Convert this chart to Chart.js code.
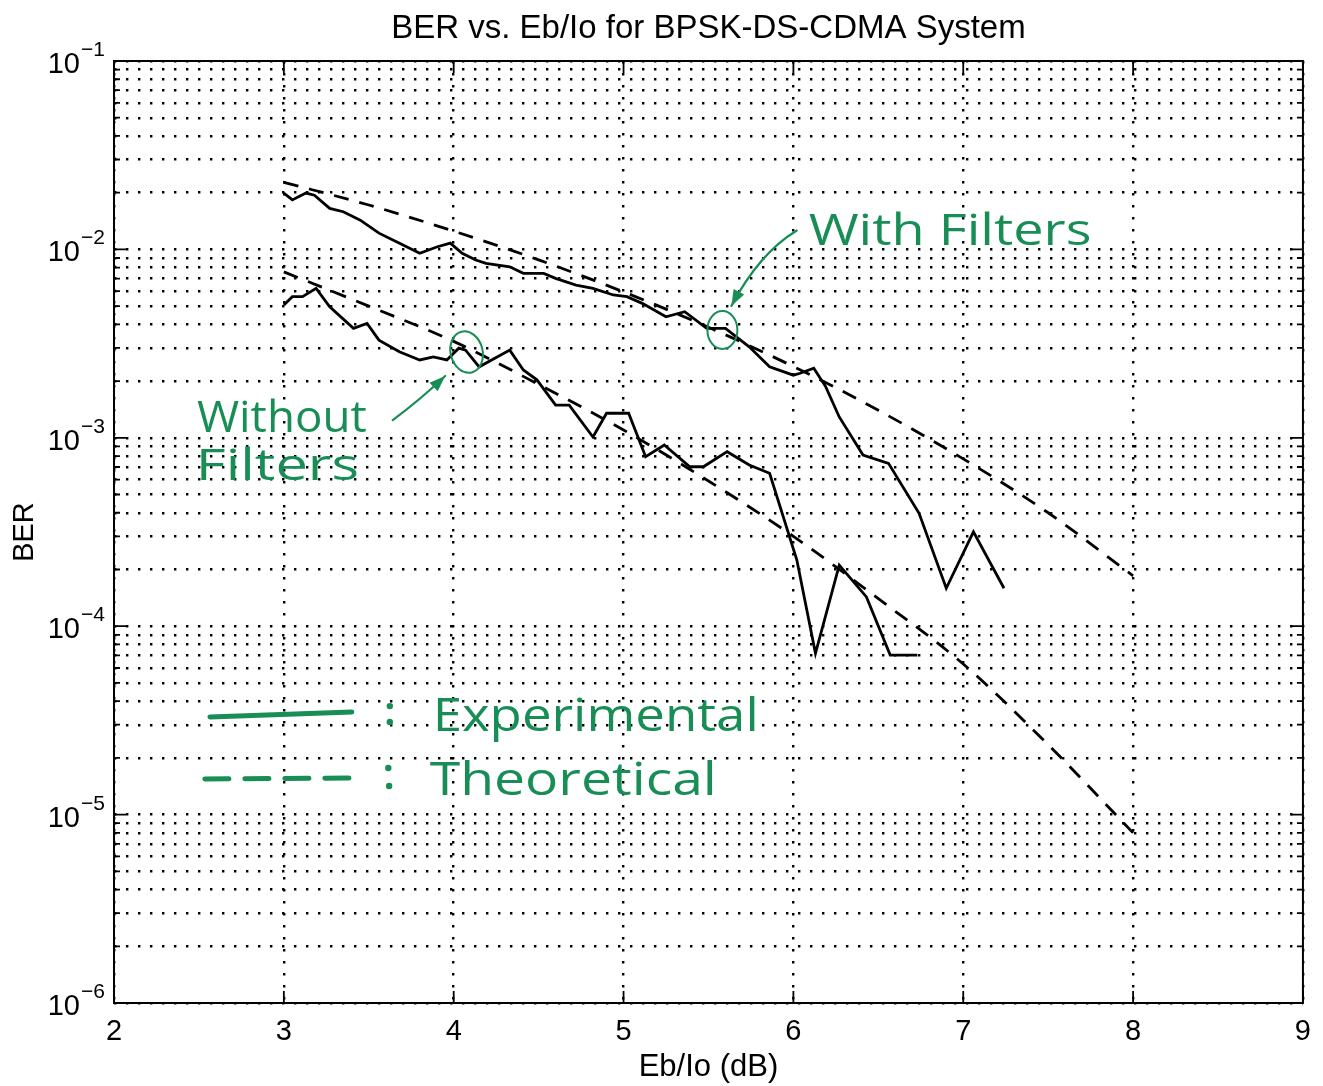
<!DOCTYPE html>
<html><head><meta charset="utf-8">
<script src="https://cdn.jsdelivr.net/npm/chart.js@4.4.1/dist/chart.umd.min.js"></script>
<style>html,body{margin:0;padding:0;background:#fff}#wrap{width:1323px;height:1086px;position:relative}</style>
</head><body><div id="wrap"><canvas id="c"></canvas></div>
<script>
// ---- text ----
const titleText = 'BER vs. Eb/Io for BPSK-DS-CDMA System';
const xLabel = 'Eb/Io (dB)';
const yLabel = 'BER';
const xTicks = [2, 3, 4, 5, 6, 7, 8, 9];
const yExponents = [-6, -5, -4, -3, -2, -1];
const noteWith = 'With Filters';
const noteWithout1 = 'Without';
const noteWithout2 = 'Filters';
const legendSolid = 'Experimental';
const legendDashed = 'Theoretical';

// ---- data ----
const withFiltersX = [3.00, 3.05, 3.13, 3.18, 3.27, 3.35, 3.45, 3.56, 3.66, 3.80, 3.90, 3.98, 4.05, 4.13, 4.19, 4.33, 4.41, 4.53, 4.60, 4.72, 4.82, 4.94, 5.02, 5.11, 5.25, 5.36, 5.49, 5.60, 5.74, 5.86, 6.00, 6.04, 6.12, 6.19, 6.27, 6.41, 6.56, 6.74, 6.90, 7.06, 7.24];
const withFiltersBER = [1.99e-2, 1.83e-2, 1.99e-2, 1.94e-2, 1.65e-2, 1.585e-2, 1.43e-2, 1.22e-2, 1.10e-2, 9.53e-3, 1.03e-2, 1.08e-2, 9.53e-3, 8.78e-3, 8.43e-3, 8.09e-3, 7.46e-3, 7.46e-3, 7.02e-3, 6.47e-3, 6.21e-3, 5.73e-3, 5.61e-3, 5.17e-3, 4.39e-3, 4.67e-3, 3.81e-3, 3.81e-3, 3.04e-3, 2.38e-3, 2.15e-3, 2.20e-3, 2.34e-3, 1.87e-3, 1.29e-3, 8.10e-4, 7.32e-4, 3.97e-4, 1.59e-4, 3.17e-4, 1.59e-4];
const withoutFiltersX = [3.00, 3.05, 3.11, 3.19, 3.27, 3.41, 3.49, 3.56, 3.68, 3.80, 3.88, 3.96, 4.03, 4.07, 4.15, 4.33, 4.41, 4.49, 4.60, 4.68, 4.82, 4.90, 5.03, 5.13, 5.24, 5.39, 5.47, 5.61, 5.74, 5.86, 6.02, 6.13, 6.27, 6.43, 6.57, 6.73];
const withoutFiltersBER = [5.07e-3, 5.61e-3, 5.61e-3, 6.21e-3, 4.96e-3, 3.81e-3, 4.05e-3, 3.30e-3, 2.86e-3, 2.59e-3, 2.69e-3, 2.59e-3, 2.99e-3, 2.92e-3, 2.38e-3, 2.92e-3, 2.29e-3, 2.03e-3, 1.49e-3, 1.49e-3, 1.01e-3, 1.35e-3, 1.35e-3, 7.93e-4, 9.16e-4, 7.02e-4, 7.02e-4, 8.44e-4, 7.17e-4, 6.48e-4, 2.25e-4, 7.18e-5, 2.11e-4, 1.43e-4, 7.03e-5, 7.03e-5];
const theoryX = [3.0, 3.5, 4.0, 4.5, 5.0, 5.5, 6.0, 6.5, 7.0, 7.5, 8.0];
const theoryWithBER = [2.27e-2, 1.72e-2, 1.25e-2, 8.8e-3, 5.95e-3, 3.86e-3, 2.39e-3, 1.40e-3, 7.73e-4, 4.0e-4, 1.85e-4];
const theoryWithoutBER = [7.6e-3, 5.0e-3, 3.25e-3, 1.92e-3, 1.1e-3, 5.9e-4, 3.0e-4, 1.40e-4, 6.3e-5, 2.35e-5, 8.0e-6];

const pts = (xs, ys) => xs.map((x, i) => ({ x, y: ys[i] }));
const GREEN = 'rgb(24,142,86)';
const FONT = '"Liberation Sans", Arial, Helvetica, sans-serif';
const HAND = '"Open Sans", "Noto Sans", sans-serif';

const frame = {
  id: 'frame',
  afterDraw(chart) {
    const { ctx, chartArea: a, scales: { x, y } } = chart;
    ctx.save();
    ctx.strokeStyle = '#000';
    ctx.lineWidth = 2;
    ctx.strokeRect(a.left, a.top, a.right - a.left, a.bottom - a.top);
    ctx.lineWidth = 1.8;
    ctx.beginPath();
    y.ticks.forEach(t => {
      const p = y.getPixelForValue(t.value);
      const L = t.major ? 12 : 6;
      ctx.moveTo(a.left, p); ctx.lineTo(a.left + L, p);
      ctx.moveTo(a.right, p); ctx.lineTo(a.right - L, p);
    });
    xTicks.forEach(v => {
      const p = x.getPixelForValue(v);
      ctx.moveTo(p, a.bottom); ctx.lineTo(p, a.bottom - 12);
      ctx.moveTo(p, a.top); ctx.lineTo(p, a.top + 12);
    });
    ctx.stroke();
    ctx.fillStyle = '#000';
    ctx.textBaseline = 'alphabetic';
    yExponents.forEach(e => {
      const p = y.getPixelForValue(Math.pow(10, e));
      ctx.font = '29px ' + FONT;
      ctx.textAlign = 'right';
      ctx.fillText('10', 80, p + 12);
      ctx.font = '21px ' + FONT;
      ctx.textAlign = 'left';
      ctx.fillText('\u2212' + Math.abs(e), 81, p - 5);
    });
    ctx.restore();
  }
};

function P(chart, xv, e) {
  return [chart.scales.x.getPixelForValue(xv), chart.scales.y.getPixelForValue(Math.pow(10, e))];
}
function handText(ctx, text, x, y, size, targetW) {
  ctx.save();
  ctx.font = size + 'px ' + HAND;
  const w = ctx.measureText(text).width;
  ctx.translate(x, y);
  ctx.scale(targetW / w, 1);
  ctx.fillStyle = GREEN;
  ctx.textAlign = 'left';
  ctx.textBaseline = 'alphabetic';
  ctx.fillText(text, 0, 0);
  ctx.restore();
}
function arrowHead(ctx, from, tip, len, half) {
  const dx = tip[0] - from[0], dy = tip[1] - from[1];
  const d = Math.hypot(dx, dy); const ux = dx / d, uy = dy / d;
  ctx.beginPath();
  ctx.moveTo(tip[0], tip[1]);
  ctx.lineTo(tip[0] - ux * len - uy * half, tip[1] - uy * len + ux * half);
  ctx.lineTo(tip[0] - ux * len + uy * half, tip[1] - uy * len - ux * half);
  ctx.closePath();
  ctx.fill();
}

const notes = {
  id: 'notes',
  afterDatasetsDraw(chart) {
    const { ctx, scales: { x } } = chart;
    const W = (dx) => x.getPixelForValue(2 + dx) - x.getPixelForValue(2);
    ctx.save();
    ctx.strokeStyle = GREEN; ctx.fillStyle = GREEN;
    ctx.lineCap = 'round'; ctx.lineJoin = 'round';

    let p = P(chart, 6.09, -1.977);
    handText(ctx, noteWith, p[0], p[1], 43, W(1.665));
    const a1 = P(chart, 6.02, -1.90), c1 = P(chart, 5.80, -2.02), t1 = P(chart, 5.635, -2.30);
    ctx.lineWidth = 2.2;
    ctx.beginPath(); ctx.moveTo(a1[0], a1[1]); ctx.quadraticCurveTo(c1[0], c1[1], t1[0], t1[1]); ctx.stroke();
    arrowHead(ctx, c1, t1, 16, 6);
    const e1 = P(chart, 5.582, -2.428);
    ctx.lineWidth = 2;
    ctx.beginPath(); ctx.ellipse(e1[0], e1[1], 15, 19, 0, 0, Math.PI * 2); ctx.stroke();

    p = P(chart, 2.488, -2.969);
    handText(ctx, noteWithout1, p[0], p[1], 43, W(1.0));
    p = P(chart, 2.482, -3.224);
    handText(ctx, noteWithout2, p[0], p[1], 43, W(0.96));
    const a2 = P(chart, 3.641, -2.906), c2 = P(chart, 3.80, -2.80), t2 = P(chart, 3.95, -2.672);
    ctx.lineWidth = 2.2;
    ctx.beginPath(); ctx.moveTo(a2[0], a2[1]); ctx.quadraticCurveTo(c2[0], c2[1], t2[0], t2[1]); ctx.stroke();
    arrowHead(ctx, c2, t2, 16, 6);
    const e2 = P(chart, 4.076, -2.545);
    ctx.lineWidth = 2;
    ctx.beginPath(); ctx.ellipse(e2[0], e2[1], 16, 21, -0.25, 0, Math.PI * 2); ctx.stroke();

    const s1 = P(chart, 2.565, -4.482), s2 = P(chart, 3.40, -4.455);
    ctx.lineWidth = 5;
    ctx.beginPath(); ctx.moveTo(s1[0], s1[1]); ctx.lineTo(s2[0], s2[1]); ctx.stroke();
    const d1 = P(chart, 2.535, -4.811), d2 = P(chart, 3.406, -4.806);
    ctx.setLineDash([24, 16]);
    ctx.beginPath(); ctx.moveTo(d1[0], d1[1]); ctx.lineTo(d2[0], d2[1]); ctx.stroke();
    ctx.setLineDash([]);
    [[3.624, -4.424], [3.624, -4.508], [3.615, -4.753], [3.62, -4.848]].forEach(q => {
      const c = P(chart, q[0], q[1]);
      ctx.beginPath(); ctx.arc(c[0], c[1], 3.2, 0, Math.PI * 2); ctx.fill();
    });
    p = P(chart, 3.876, -4.556);
    handText(ctx, legendSolid, p[0], p[1], 45, W(1.92));
    p = P(chart, 3.859, -4.896);
    handText(ctx, legendDashed, p[0], p[1], 45, W(1.69));
    ctx.restore();
  }
};

const yTickValues = [];
for (let e = -6; e <= -2; e++) for (let m = 1; m <= 9; m++) yTickValues.push({ value: m * Math.pow(10, e), major: m === 1 });
yTickValues.push({ value: 0.1, major: true });

new Chart(document.getElementById('c'), {
  type: 'scatter',
  data: {
    datasets: [
      { label: 'With Filters (experimental)', data: pts(withFiltersX, withFiltersBER), showLine: true, borderColor: '#000', borderWidth: 2.8, pointRadius: 0, tension: 0 },
      { label: 'Without Filters (experimental)', data: pts(withoutFiltersX, withoutFiltersBER), showLine: true, borderColor: '#000', borderWidth: 2.8, pointRadius: 0, tension: 0 },
      { label: 'With Filters (theoretical)', data: pts(theoryX, theoryWithBER), showLine: true, borderColor: '#000', borderWidth: 2.8, borderDash: [15, 11], pointRadius: 0, cubicInterpolationMode: 'monotone' },
      { label: 'Without Filters (theoretical)', data: pts(theoryX, theoryWithoutBER), showLine: true, borderColor: '#000', borderWidth: 2.8, borderDash: [15, 11], pointRadius: 0, cubicInterpolationMode: 'monotone' }
    ]
  },
  options: {
    responsive: true, maintainAspectRatio: false, animation: false,
    layout: { padding: { left: 0, right: 19, top: 0, bottom: 0 } },
    plugins: {
      legend: { display: false }, tooltip: { enabled: false },
      title: { display: true, fullSize: false, text: titleText, color: '#000', font: { family: FONT, size: 33, weight: 'normal' }, padding: { top: 9, bottom: 12.4 } }
    },
    scales: {
      x: {
        type: 'linear', min: 2, max: 9,
        afterBuildTicks: s => { s.ticks = xTicks.map(v => ({ value: v })); },
        afterFit: s => { s.height = 83; },
        ticks: { color: '#000', font: { family: FONT, size: 29 }, padding: 12, maxRotation: 0 },
        grid: { color: '#000', lineWidth: 2.4, drawTicks: false },
        border: { display: false, dash: [2.4, 9.6] },
        title: { display: true, text: xLabel, color: '#000', font: { family: FONT, size: 31 }, padding: { top: 0, bottom: 0 } }
      },
      y: {
        type: 'logarithmic', min: 1e-6, max: 1e-1,
        afterBuildTicks: s => { s.ticks = yTickValues.map(t => ({ value: t.value, major: t.major })); },
        afterFit: s => { s.width = 114; },
        ticks: { display: false },
        grid: { color: '#000', lineWidth: 2.4, drawTicks: false },
        border: { display: false, dash: [2.4, 9.6] },
        title: { display: true, text: yLabel, color: '#000', font: { family: FONT, size: 29 }, padding: { top: 8, bottom: 0 } }
      }
    }
  },
  plugins: [frame, notes]
});
</script></body></html>
